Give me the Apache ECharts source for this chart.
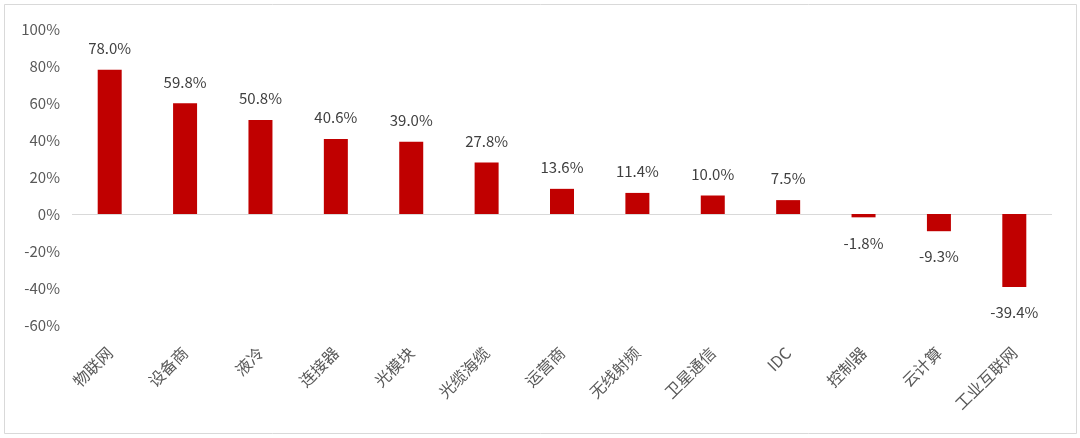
<!DOCTYPE html>
<html><head><meta charset="utf-8">
<script src="https://cdn.jsdelivr.net/npm/echarts@6/dist/echarts.min.js"></script>
<style>html,body{margin:0;padding:0;background:#fff}#c{width:1080px;height:438px}</style>
</head><body><div id="c"></div>
<script>
const categories = ['物联网','设备商','液冷','连接器','光模块','光缆海缆','运营商','无线射频','卫星通信','IDC','控制器','云计算','工业互联网'];
const values = [78.0, 59.8, 50.8, 40.6, 39.0, 27.8, 13.6, 11.4, 10.0, 7.5, -1.8, -9.3, -39.4];
const yMin = -60, yMax = 100, yStep = 20;

const font = '"Noto Sans CJK SC", "Noto Sans", sans-serif';
const chart = echarts.init(document.getElementById('c'));
chart.setOption({
  animation: false,
  backgroundColor: '#fff',
  graphic: [{
    type: 'rect', shape: {x: 4.5, y: 4.5, width: 1072, height: 429},
    style: {fill: 'none', stroke: '#d9d9d9', lineWidth: 1}, silent: true, z: -1
  }],
  grid: {left: 72, right: 28, top: 29, bottom: 113},
  xAxis: {
    type: 'category', data: categories,
    axisLine: {show: false, onZero: false}, axisTick: {show: false},
    axisLabel: {rotate: 45, interval: 0, margin: 25, color: '#595959', fontSize: 16, fontFamily: font}
  },
  yAxis: {
    type: 'value', min: yMin, max: yMax, interval: yStep,
    splitLine: {show: false}, axisLine: {show: false}, axisTick: {show: false},
    axisLabel: {formatter: '{value}%', color: '#595959', fontSize: 15, fontFamily: font, margin: 12}
  },
  series: [{
    type: 'bar',
    data: values.map(v => v < 0 ? {value: v, label: {position: 'bottom', distance: 18}} : v),
    barWidth: 24,
    itemStyle: {color: '#c00000'},
    label: {
      show: true, position: 'top', distance: 14,
      formatter: p => p.value.toFixed(1) + '%',
      color: '#404040', fontSize: 15, fontFamily: font
    },
    markLine: {
      silent: true, symbol: 'none', label: {show: false},
      lineStyle: {color: '#d9d9d9', type: 'solid', width: 1},
      data: [{yAxis: 0}], z: 1
    }
  }]
});
</script></body></html>
